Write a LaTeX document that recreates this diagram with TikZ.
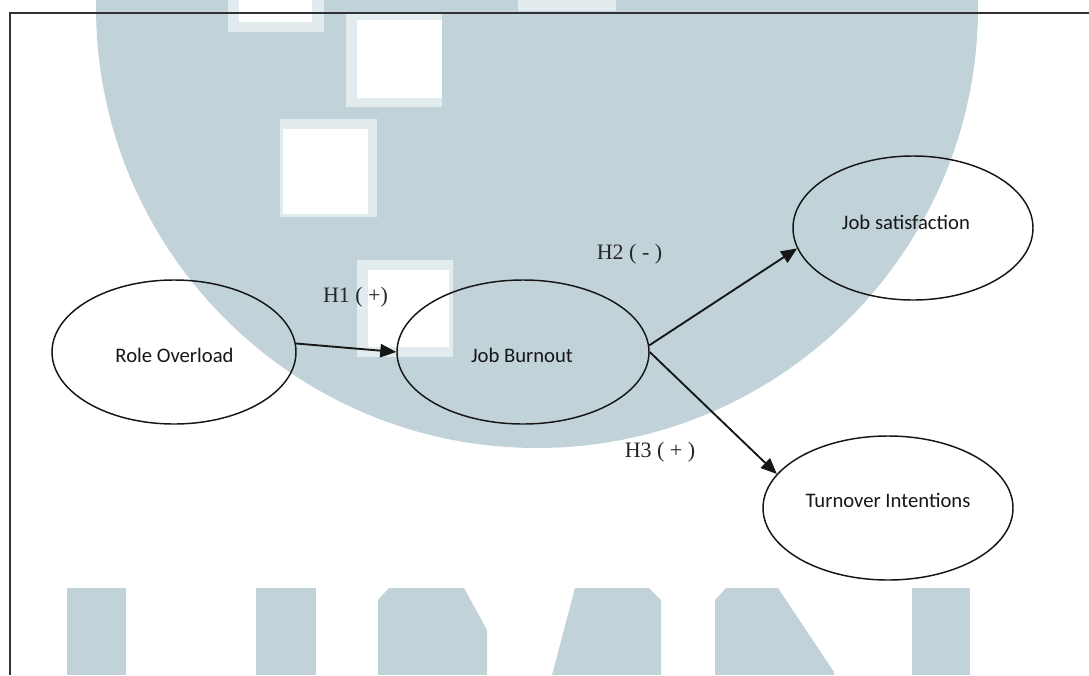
\documentclass[tikz,border=0pt]{standalone}
\usepackage{fontspec}
\setmainfont{Liberation Serif}
\newfontfamily\constructfont{Carlito}
\usetikzlibrary{shapes.geometric,arrows.meta}
\definecolor{wm}{RGB}{193,211,217}
\definecolor{wmlight}{RGB}{226,235,238}
\definecolor{ink}{RGB}{22,22,22}
\definecolor{framegray}{RGB}{50,50,50}
\begin{document}
\begin{tikzpicture}[x=0.75pt,y=-0.75pt,
  construct/.style={draw=ink, line width=1.1pt, ellipse, inner sep=0pt, minimum height=108pt},
  construct text/.style={font=\constructfont\fontsize{15.5}{18}\selectfont, text=ink, inner sep=0pt},
  hyp/.style={font=\fontsize{16.5}{19}\selectfont, text=black!85, anchor=base, inner sep=0pt},
  path arrow/.style={draw=ink, line width=1.4pt, -{Triangle[length=12pt,width=10pt]}}]
\useasboundingbox (0,0) rectangle (1089,675);

% background logo
\begin{scope}
  \clip (0,0) rectangle (1089,675);
  \fill[wm] (537,7) circle[radius=330.75pt];
  % window squares
  \fill[wmlight] (228,0) rectangle (324,32);
  \fill[white]   (239,0) rectangle (312,22);
  \fill[wmlight] (346,12) rectangle (442,107);
  \fill[white]   (357,20) rectangle (442,98);
  \fill[wmlight] (280,119) rectangle (377,217);
  \fill[white]   (283,129) rectangle (368,214);
  \fill[wmlight] (357,260) rectangle (453,357);
  \fill[white]   (368,270) rectangle (449,347);
  \fill[wmlight] (518,0) rectangle (616,11);
  % lettering
  \fill[wm] (67,588) rectangle (126,675);
  \fill[wm] (256,588) rectangle (316,675);
  \fill[wm] (389,588) -- (464,588) -- (487,630) -- (487,675) -- (378,675) -- (378,600) -- cycle;
  \fill[wm] (575,588) -- (649,588) -- (661,600) -- (661,675) -- (552,675) -- cycle;
  \fill[wm] (726,588) -- (778,588) -- (834,672) -- (834,675) -- (715,675) -- (715,600) -- cycle;
  \fill[wm] (912,588) rectangle (970,675);
\end{scope}

% constructs
\node[construct, minimum width=183pt]   (ro) at (174,352) {};
\node[construct, minimum width=189pt]   (jb) at (523,352) {};
\node[construct, minimum width=180pt]   (js) at (913,228) {};
\node[construct, minimum width=187.5pt] (ti) at (888,508) {};

\node[construct text] (ro-t) at (174.5,355.5) {Role Overload};
\node[construct text] (jb-t) at (522,355.5) {Job Burnout};
\node[construct text] (js-t) at (906,222.5) {Job satisfaction};
\node[construct text] (ti-t) at (888,500) {Turnover Intentions};

% hypotheses
\draw[path arrow] (ro.4) -- (jb.west);
\draw[path arrow] (jb.3) -- (js.190);
\draw[path arrow] (jb.east) -- (ti.163);

\node[hyp] (h1) at (355.5,302) {H1 ( +)};
\node[hyp] (h2) at (629.5,259) {H2 ( - )};
\node[hyp] (h3) at (660,457) {H3 ( + )};

% frame
\draw[framegray, line width=1.5pt] (9.5,675) -- (9.5,12.5) -- (1089,12.5);
\end{tikzpicture}
\end{document}
